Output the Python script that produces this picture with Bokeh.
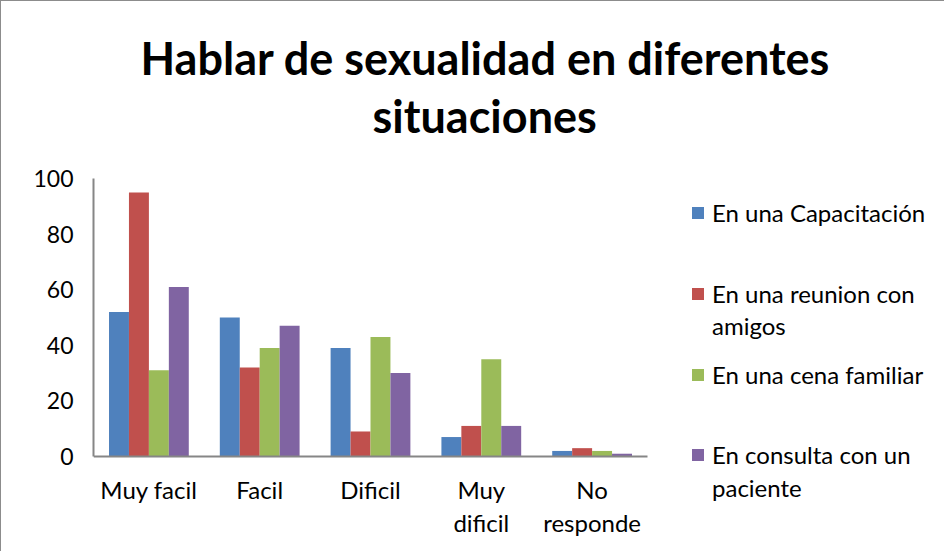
from bokeh.plotting import figure
from bokeh.models import (Range1d, Legend, LegendItem, ColumnDataSource,
                          FixedTicker, LinearAxis, Title)
from bokeh.transform import dodge
from bokeh.embed import file_html
from bokeh.resources import INLINE

categories = ["Muy facil", "Facil", "Dificil", "Muy\ndificil", "No\nresponde"]
series_names = ["En una Capacitación", "En una reunion con\namigos", "En una cena familiar", "En consulta con un\npaciente"]
capacitacion = [52, 50, 39, 7, 2]
reunion_amigos = [95, 32, 9, 11, 3]
cena_familiar = [31, 39, 43, 35, 2]
consulta_paciente = [61, 47, 30, 11, 1]
colors = ["#4F81BD", "#C0504D", "#9BBB59", "#8064A2"]
title_lines = ["Hablar de sexualidad en diferentes", "situaciones"]
y_ticks = [0, 20, 40, 60, 80, 100]

FONT = "Lato"

n = len(categories)
centers = [i + 0.5 for i in range(n)]
src = ColumnDataSource(dict(xc=centers, s0=capacitacion, s1=reunion_amigos,
                            s2=cena_familiar, s3=consulta_paciente))

# frame: 852px wide (category area uses the first 554px), 374px tall (0..100 uses 278px)
x_end = n * 852 / 554
y_start = -100 * (374 - 278) / 278

p = figure(width=944, height=551, output_backend="svg", toolbar_location=None,
           x_range=Range1d(0, x_end), y_range=Range1d(y_start, 100),
           x_axis_type=None, y_axis_type=None,
           min_border_left=92, min_border_right=0, min_border_bottom=0, min_border_top=177)
p.title = None
p.styles = {"border-left": "1px solid #8c8c8c", "border-top": "1px solid #8c8c8c"}

# titles: first added sits closest to the frame
t2 = Title(text=title_lines[1], align="left", offset=279, standoff=71,
           text_font=FONT, text_font_style="bold", text_font_size="45px", text_color="#000000")
t1 = Title(text=title_lines[0], align="left", offset=47, standoff=-67,
           text_font=FONT, text_font_style="bold", text_font_size="45px", text_color="#000000")
p.add_layout(t2, "above")
p.add_layout(t1, "above")

offsets = [-0.27, -0.09, 0.09, 0.27]
renderers = []
for i, off in enumerate(offsets):
    r = p.vbar(x=dodge("xc", off), top=f"s{i}", width=0.18,
               source=src, fill_color=colors[i], line_color=None)
    renderers.append(r)

xaxis = LinearAxis(ticker=FixedTicker(ticks=centers), bounds=(0, n), fixed_location=0,
                   major_label_overrides={c: lab for c, lab in zip(centers, categories)})
yaxis = LinearAxis(ticker=FixedTicker(ticks=y_ticks), bounds=(0, 100))
p.add_layout(xaxis, "below")
p.add_layout(yaxis, "left")

p.xgrid.grid_line_color = None
p.ygrid.grid_line_color = None
p.outline_line_color = None

for ax in (xaxis, yaxis):
    ax.axis_line_color = "#868686"
    ax.axis_line_width = 2
    ax.major_tick_line_color = None
    ax.minor_tick_line_color = None
    ax.major_tick_out = 0
    ax.major_tick_in = 0
    ax.major_label_text_font = FONT
    ax.major_label_text_color = "#000000"

xaxis.major_label_text_font_size = "24px"
yaxis.major_label_text_font_size = "23px"
yaxis.major_label_standoff = 20
xaxis.major_label_standoff = 18
xaxis.major_label_text_line_height = 1.15

# legend rows: (text, series index or None for a continuation line)
legend_rows = []
for i, name in enumerate(series_names):
    for j, line in enumerate(name.split("\n")):
        legend_rows.append((line, i if j == 0 else None))
legend_y = [325, 244, 212, 163, 83, 50]

for (text, si), ly in zip(legend_rows, legend_y):
    rs = [renderers[si]] if si is not None else []
    lg = Legend(items=[LegendItem(label=text, renderers=rs)],
                location=(597, ly), padding=0, margin=0,
                glyph_width=15, glyph_height=15, label_standoff=7,
                label_text_font=FONT, label_text_font_size="24px",
                label_text_color="#000000",
                border_line_color=None, background_fill_alpha=0)
    p.add_layout(lg, "center")

open("out.html", "w").write(file_html(p, INLINE))
